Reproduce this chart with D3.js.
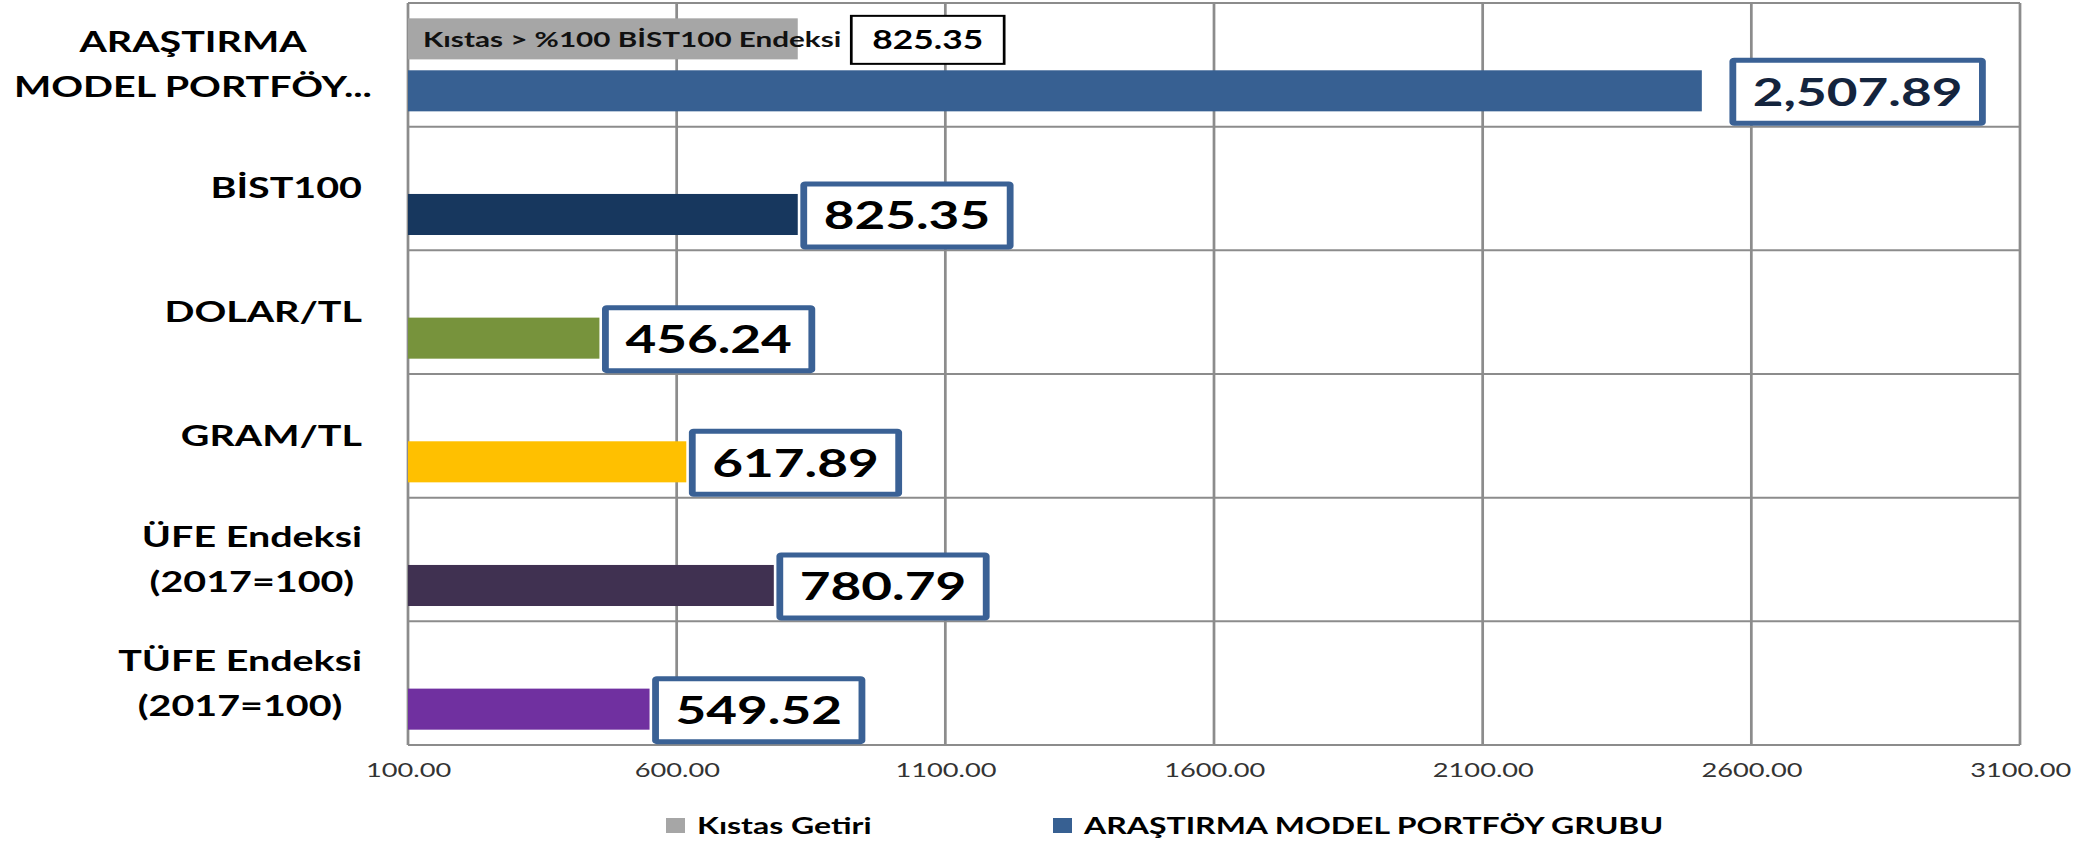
<!DOCTYPE html>
<html><head><meta charset="utf-8">
<script src="https://cdn.jsdelivr.net/npm/d3@7"></script>
<style>html,body{margin:0;padding:0;background:#fff;overflow:hidden}svg{display:block}</style>
</head><body>
<svg id="chart"></svg>
<script>
// ---- data ----
const categories = [
  ["ARAŞTIRMA", "MODEL PORTFÖY..."],
  ["BİST100"],
  ["DOLAR/TL"],
  ["GRAM/TL"],
  ["ÜFE Endeksi", "(2017=100)"],
  ["TÜFE Endeksi", "(2017=100)"]
];
const kistasValues = [825.35, null, null, null, null, null];
const portfoyValues = [2507.89, 825.35, 456.24, 617.89, 780.79, 549.52];
const barColors = ["#376092", "#17375e", "#77933c", "#ffc000", "#403151", "#7030a0"];
const kistasColor = "#a6a6a6";
const kistasLabel = "Kıstas > %100 BİST100 Endeksi";
const xTicks = [100, 600, 1100, 1600, 2100, 2600, 3100];
const legendNames = ["Kıstas Getiri", "ARAŞTIRMA MODEL PORTFÖY GRUBU"];

// ---- layout (chart drawn narrow, then stretched horizontally like the source) ----
const W = 2100, H = 841, S = 1.36;
const VW = W / S;
const m = {left: 408 / S, right: VW - 2020 / S, top: 3, bottom: H - 745};
const FONT = "Lato, 'Open Sans', sans-serif";

const svg = d3.select("#chart")
  .attr("width", W).attr("height", H)
  .attr("viewBox", `0 0 ${VW} ${H}`)
  .attr("preserveAspectRatio", "none");

const x = d3.scaleLinear().domain([100, 3100]).range([m.left, VW - m.right]);
const idx = d3.range(categories.length);
const y = d3.scaleBand().domain(idx).range([m.top, H - m.bottom]).padding(0);
const sub = d3.scaleBand().domain(["k", "p"]).range([0, y.bandwidth()])
  .paddingInner(0.21).paddingOuter(0.295);

const gridColor = "#8c8c8c";
// vertical gridlines
svg.append("g").selectAll("line").data(xTicks).join("line")
  .attr("x1", d => x(d)).attr("x2", d => x(d))
  .attr("y1", m.top).attr("y2", H - m.bottom)
  .attr("stroke", gridColor).attr("stroke-width", 2);
// horizontal gridlines (category boundaries)
const bounds = idx.map(i => y(i)).concat([H - m.bottom]);
svg.append("g").selectAll("line").data(bounds).join("line")
  .attr("x1", m.left).attr("x2", VW - m.right)
  .attr("y1", d => d).attr("y2", d => d)
  .attr("stroke", gridColor).attr("stroke-width", 2);

// x-axis tick labels
const xAxis = d3.axisBottom(x).tickValues(xTicks).tickFormat(d3.format(".2f")).tickSize(0).tickPadding(18);
const gx = svg.append("g").attr("transform", `translate(0,${H - m.bottom})`).call(xAxis);
gx.select(".domain").remove();
gx.selectAll("text").attr("font-family", FONT).attr("font-size", 20).attr("fill", "#333");

// bars: kistas
svg.append("g").selectAll("rect").data(idx.filter(i => kistasValues[i] != null)).join("rect")
  .attr("x", x(100)).attr("y", i => y(i) + sub("k"))
  .attr("width", i => x(kistasValues[i]) - x(100)).attr("height", sub.bandwidth())
  .attr("fill", kistasColor);
// bars: portfolio group
svg.append("g").selectAll("rect").data(idx).join("rect")
  .attr("x", x(100)).attr("y", i => y(i) + sub("p"))
  .attr("width", i => x(portfoyValues[i]) - x(100)).attr("height", sub.bandwidth())
  .attr("fill", i => barColors[i]);

// kistas label
const fmt = d3.format(",.2f");
idx.filter(i => kistasValues[i] != null).forEach(i => {
  const cy = y(i) + sub("k") + sub.bandwidth() / 2;
  const t = svg.append("text").attr("x", x(100) + 15 / S).attr("y", cy + 8)
    .attr("font-family", FONT).attr("font-weight", 700).attr("font-size", 21.8)
    .attr("fill", "#111").text(kistasLabel);
  const tEnd = x(100) + 15 / S + t.node().getComputedTextLength();
  const g = svg.append("g");
  const vt = g.append("text").attr("font-family", FONT).attr("font-weight", 700)
    .attr("font-size", 26).attr("fill", "#000").attr("text-anchor", "middle")
    .text(fmt(kistasValues[i]));
  const tw = vt.node().getComputedTextLength();
  const bw = tw + 21 / S * 2, bh = 48;
  const bx = tEnd + 10 / S;
  g.insert("rect", "text").attr("x", bx).attr("y", cy - bh / 2 + 1).attr("width", bw).attr("height", bh)
    .attr("fill", "#fff").attr("stroke", "#000").attr("stroke-width", 2);
  vt.attr("x", bx + bw / 2).attr("y", cy + 10);
});

// value labels for portfolio series
idx.forEach(i => {
  const cy = y(i) + sub("p") + sub.bandwidth() / 2 + 1;
  const g = svg.append("g");
  const vt = g.append("text").attr("font-family", FONT).attr("font-weight", 700)
    .attr("font-size", 39).attr("text-anchor", "middle")
    .attr("fill", i === 0 ? "#14243d" : "#000")
    .text(fmt(portfoyValues[i]));
  const tw = vt.node().getComputedTextLength();
  const bw = tw + 2 * 20 / S, bh = 63;
  const bx = x(portfoyValues[i]) + (i === 0 ? 31 : 6) / S;
  g.insert("rect", "text").attr("x", bx).attr("y", cy - bh / 2).attr("width", bw).attr("height", bh)
    .attr("fill", "#fff").attr("stroke", "#3a6195").attr("stroke-width", 5).attr("rx", 1);
  vt.attr("x", bx + bw / 2).attr("y", cy + 14);
});

// category labels
const labelRight = 362 / S, labelMinLeft = 14 / S, lineH = 45;
idx.forEach(i => {
  const lines = categories[i];
  const cy = y(i) + y.bandwidth() / 2;
  const t = svg.append("text").attr("font-family", FONT).attr("font-weight", 700)
    .attr("font-size", 29).attr("fill", "#000").attr("text-anchor", "middle");
  const spans = lines.map((l, k) => t.append("tspan").text(l)
    .attr("y", cy + 10 + (k - (lines.length - 1) / 2) * lineH));
  const w = d3.max(spans, s => s.node().getComputedTextLength());
  const cx = Math.max(labelRight - w / 2, labelMinLeft + w / 2);
  spans.forEach(s => s.attr("x", cx));
});

// legend
const legendItems = [
  {name: legendNames[0], color: kistasColor, x: 666 / S},
  {name: legendNames[1], color: barColors[0], x: 1053 / S}
];
const lg = svg.append("g");
legendItems.forEach(it => {
  lg.append("rect").attr("x", it.x).attr("y", 818).attr("height", 15)
    .attr("width", 19 / S).attr("fill", it.color);
  lg.append("text").attr("x", it.x + 31 / S).attr("y", 834)
    .attr("font-family", FONT).attr("font-weight", 700).attr("font-size", 23.5).attr("fill", "#000")
    .text(it.name);
});
</script>
</body></html>
